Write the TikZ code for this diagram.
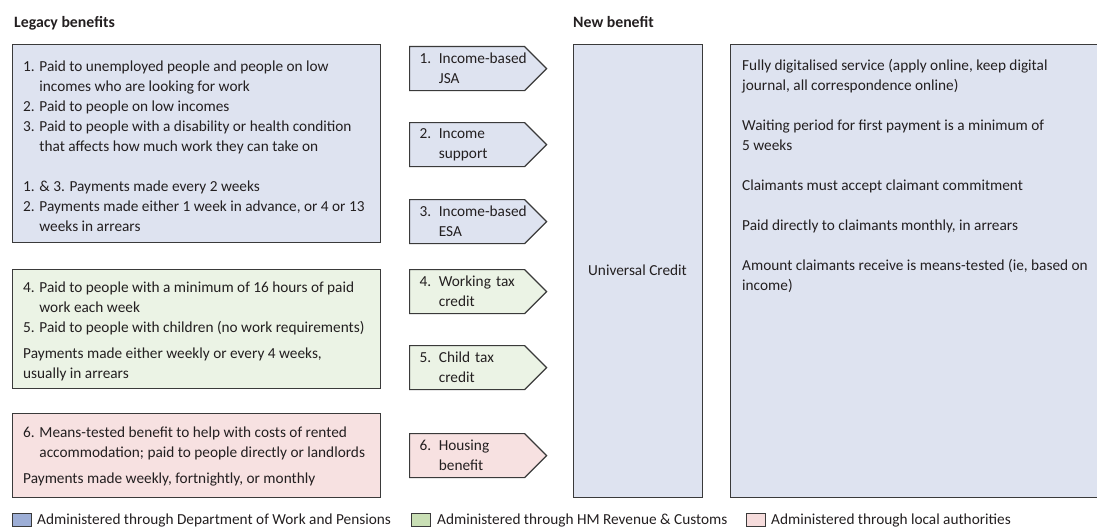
\documentclass[tikz,border=0pt]{standalone}
\usepackage{fontspec}
\setmainfont{Carlito}
\usetikzlibrary{shapes.symbols}
\definecolor{boxline}{HTML}{3A3A3A}
\definecolor{inktext}{HTML}{231F20}
\definecolor{dwpfill}{HTML}{DEE3F0}
\definecolor{hmrcfill}{HTML}{EBF3E5}
\definecolor{lafill}{HTML}{F7E1E1}
\definecolor{dwpkey}{HTML}{9DAED6}
\definecolor{hmrckey}{HTML}{C9DFB5}
\definecolor{lakey}{HTML}{F6DCDC}
\newcommand{\ind}[1]{\phantom{#1}}
\begin{document}
\begin{tikzpicture}[x=1pt, y=-1pt, text=inktext, font=\fontsize{15.3}{20}\selectfont]
        \tikzstyle{panel}=[draw=boxline, line width=1.2pt, anchor=north west, inner sep=0pt]
        \tikzstyle{benefit}=[draw=boxline, line width=1.2pt, shape=signal, signal to=east, signal pointer angle=90, text width=95pt, inner xsep=10pt, inner ysep=0pt, minimum height=44pt, align=left, anchor=north west]
        \tikzstyle{txt}=[anchor=north west, inner sep=0pt, align=left]
        \tikzstyle{key}=[draw=boxline, line width=0.9pt, minimum width=19pt, minimum height=13pt, inner sep=0pt, anchor=west]
        \tikzstyle{heading}=[anchor=base west, inner sep=0pt, font=\fontsize{15.8}{18}\selectfont\bfseries]

        \useasboundingbox (0,0) rectangle (1097,527);

        % headings
        \node[heading] (legacy) at (14,28) {Legacy benefits};
        \node[heading] (new) at (573,28) {New benefit};

        % legacy panels
        \node[panel, fill=dwpfill, minimum width=368pt, minimum height=198pt] (dwp) at (12,44) {};
        \node[panel, fill=hmrcfill, minimum width=368pt, minimum height=119pt] (hmrc) at (12,269) {};
        \node[panel, fill=lafill, minimum width=368pt, minimum height=84pt] (la) at (12,413) {};

        \node[txt] (dwptext) at (23,60.5) {1. Paid to unemployed people and people on low\\
            \ind{1. }incomes who are looking for work\\
            2. Paid to people on low incomes\\
            3. Paid to people with a disability or health condition\\
            \ind{3. }that affects how much work they can take on\\[20pt]
            1. \& 3. Payments made every 2 weeks\\
            2. Payments made either 1 week in advance, or 4 or 13\\
            \ind{2. }weeks in arrears};
        \node[txt] (hmrctext) at (23,282) {4. Paid to people with a minimum of 16 hours of paid\\
            \ind{4. }work each week\\
            5. Paid to people with children (no work requirements)\\[6pt]
            Payments made either weekly or every 4 weeks,\\
            usually in arrears};
        \node[txt] (latext) at (23,427) {6. Means-tested benefit to help with costs of rented\\
            \ind{6. }accommodation; paid to people directly or landlords\\[6pt]
            Payments made weekly, fortnightly, or monthly};

        % benefits replaced
        \node[benefit, fill=dwpfill] (jsa) at (409,46) {\mbox{1. Income-based}\\\ind{1. }JSA};
        \node[benefit, fill=dwpfill] (is) at (409,122) {2. Income\\\ind{2. }support};
        \node[benefit, fill=dwpfill] (esa) at (409,199) {\mbox{3. Income-based}\\\ind{3. }ESA};
        \node[benefit, fill=hmrcfill] (wtc) at (409,269) {\mbox{4. Working tax}\\\ind{4. }credit};
        \node[benefit, fill=hmrcfill] (ctc) at (409,345) {5. Child tax\\\ind{5. }credit};
        \node[benefit, fill=lafill] (hb) at (409,433) {6. Housing\\\ind{6. }benefit};

        % universal credit
        \node[panel, fill=dwpfill, minimum width=129pt, minimum height=453pt] (uc) at (573,44) {};
        \node (uctext) at (637.5,270) {Universal Credit};
        \node[panel, fill=dwpfill, minimum width=380pt, minimum height=453pt] (ucinfo) at (730,44) {};
        \node[txt] (infotext) at (742,59) {Fully digitalised service (apply online, keep digital\\
            journal, all correspondence online)\\[20pt]
            Waiting period for first payment is a minimum of\\
            5 weeks\\[20pt]
            Claimants must accept claimant commitment\\[20pt]
            Paid directly to claimants monthly, in arrears\\[20pt]
            Amount claimants receive is means-tested (ie, based on\\
            income)};

        % key
        \node[key, fill=dwpkey] (kdwp) at (12,520) {};
        \node[anchor=west, inner sep=0pt] (kdwptext) at (37,520) {Administered through Department of Work and Pensions};
        \node[key, fill=hmrckey] (khmrc) at (411,520) {};
        \node[anchor=west, inner sep=0pt] (khmrctext) at (437,520) {Administered through HM Revenue \& Customs};
        \node[key, fill=lakey] (kla) at (746,520) {};
        \node[anchor=west, inner sep=0pt] (klatext) at (771,520) {Administered through local authorities};

        \end{tikzpicture}
\end{document}
